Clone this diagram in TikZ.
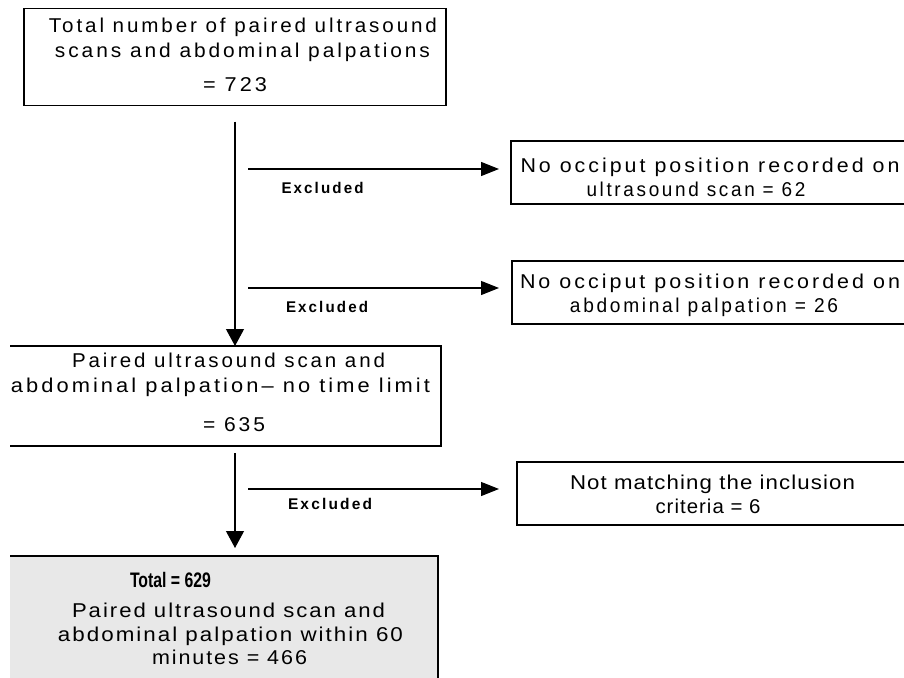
\documentclass[tikz,border=0pt]{standalone}
\usepackage{fontspec}
\usepackage{graphicx}
\setmainfont{Liberation Sans}
\newfontfamily\bodyf[LetterSpace=14]{Liberation Sans}
\newfontfamily\midf[LetterSpace=9]{Liberation Sans}
\newfontfamily\tightf[LetterSpace=5]{Liberation Sans}
\newfontfamily\exclf[LetterSpace=14]{Liberation Sans}
\newcommand\fitw[2]{\resizebox{#1}{\height}{#2}}
\usetikzlibrary{arrows.meta,calc}
\begin{document}
\begin{tikzpicture}[x=1pt,y=-1pt,
  every node/.style={inner sep=0pt,outer sep=0pt},
  ln/.style={font=\bodyf\fontsize{20}{22}\selectfont, anchor=base},
  lnm/.style={font=\midf\fontsize{20}{22}\selectfont, anchor=base},
  lnt/.style={font=\tightf\fontsize{20}{22}\selectfont, anchor=base},
  excl/.style={font=\exclf\bfseries\fontsize{15.5}{17}\selectfont, anchor=base},
  frame/.style={draw=black, line width=1.1pt},
  arr/.style={draw=black, line width=1.1pt, -{Triangle[length=18pt,width=14pt]}},
  varr/.style={draw=black, line width=1.1pt, -{Triangle[length=17pt,width=18pt]}}
]
\useasboundingbox (0,0) rectangle (904,677);
\fill[white] (0,0) rectangle (904,677);
\clip (0,0) rectangle (904,677);

% Box 1
\node[frame, minimum width=422pt, minimum height=97pt] (b1) at (235,57) {};
\node[ln] (b1l1) at (243,33) {\fitw{388pt}{Total number of paired ultrasound}};
\node[ln] (b1l2) at (242.5,58) {\fitw{375pt}{scans and abdominal palpations}};
\node[ln] (b1l3) at (235,92) {\fitw{64pt}{= 723}};

% Exclusion boxes
\node[frame, minimum width=400pt, minimum height=63pt] (e1) at (711,172.5) {};
\node[ln] (e1l1) at (710,172) {\fitw{379pt}{No occiput position recorded on}};
\node[ln] (e1l2) at (696,196) {\fitw{219pt}{ultrasound scan = 62}};

\node[frame, minimum width=398pt, minimum height=63pt] (e2) at (711,292.5) {};
\node[ln] (e2l1) at (710,288) {\fitw{380pt}{No occiput position recorded on}};
\node[ln] (e2l2) at (704,312) {\fitw{268pt}{abdominal palpation = 26}};

\node[frame, minimum width=393pt, minimum height=63pt] (e3) at (713.5,493.5) {};
\node[lnt] (e3l1) at (712.5,489) {\fitw{285pt}{Not matching the inclusion}};
\node[lnt] (e3l2) at (708,513) {\fitw{105pt}{criteria = 6}};

% Box 2 (left border outside picture)
\node[minimum width=431pt, minimum height=100pt] (b2) at (225.5,396) {};
\draw[frame] (b2.north west) -- (b2.north east) -- (b2.south east) -- (b2.south west);
\node[ln] (b2l1) at (228.5,367) {\fitw{313pt}{Paired ultrasound scan and}};
\node[ln] (b2l2) at (220.5,392) {\fitw{419pt}{abdominal palpation– no time limit}};
\node[ln] (b2l3) at (234,431) {\fitw{62pt}{= 635}};

% Box 3 (gray, cut at bottom)
\node[minimum width=428pt, minimum height=130pt] (b3) at (224,621) {};
\fill[black!9] (b3.north west) rectangle (b3.south east);
\draw[frame] (b3.north west) -- (b3.north east) -- (b3.south east);
\node[font=\bfseries\fontsize{21}{22}\selectfont, anchor=base] (b3t) at (170.5,587) {\fitw{81pt}{Total = 629}};
\node[lnm] (b3l1) at (228.5,617) {\fitw{313pt}{Paired ultrasound scan and}};
\node[lnm] (b3l2) at (230.5,641) {\fitw{345pt}{abdominal palpation within 60}};
\node[lnm] (b3l3) at (229.5,664) {\fitw{155pt}{minutes = 466}};

% Main flow arrows
\draw[varr, shorten <=16pt] (b1.south) -- (b1.south |- b2.north);
\draw[varr, shorten <=7pt, shorten >=8pt] (b2.south -| b1.south) -- (b1.south |- b3.north);

% Exclusion arrows
\coordinate (a1) at (248,169);
\coordinate (a2) at (248,288);
\coordinate (a3) at (248,489);
\draw[arr, shorten >=12pt] (a1) -- (a1 -| e1.west);
\draw[arr, shorten >=13pt] (a2) -- (a2 -| e2.west);
\draw[arr, shorten >=18pt] (a3) -- (a3 -| e3.west);

\node[excl] (x1) at (322.5,193) {\fitw{82pt}{Excluded}};
\node[excl] (x2) at (327,312) {\fitw{82pt}{Excluded}};
\node[excl] (x3) at (330,509) {\fitw{84pt}{Excluded}};
\end{tikzpicture}
\end{document}
